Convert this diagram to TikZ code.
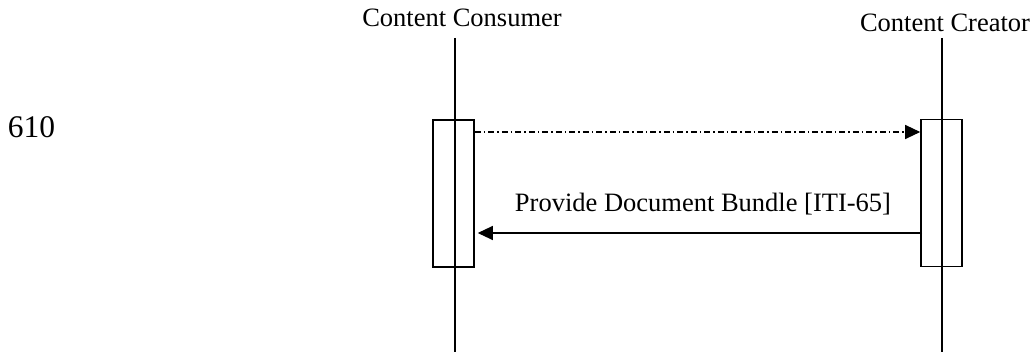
\documentclass[tikz,border=0pt]{standalone}
\usepackage{fontspec}
\setmainfont{Liberation Serif}
\usetikzlibrary{arrows.meta}

\tikzset{
    actbox/.style={draw, line width=1.6pt, fill=white, minimum width=41pt, minimum height=147pt, inner sep=0pt},
    msg/.style={line width=1.2pt, -{Triangle[length=15pt,width=14pt]}},
    dashdot/.style={dash pattern=on 6pt off 3pt on 1.5pt off 3pt}
}

\begin{document}
\begin{tikzpicture}[x=1pt, y=-1pt, font=\fontsize{26.5}{30}\selectfont]
            \useasboundingbox (0,0) rectangle (1034,352);
            % lifelines
            \coordinate (cons top) at (455,38);
            \coordinate (cons bot) at (455,352);
            \coordinate (crea top) at (942,38);
            \coordinate (crea bot) at (942,352);
            \draw[line width=1.6pt] (cons top) -- (cons bot);
            \draw[line width=1.6pt] (crea top) -- (crea bot);
            \node[actbox] (cons box) at (453.5,193.5) {};
            \node[actbox] (crea box) at (941.5,193) {};
            \draw[line width=1.6pt] (cons box.north) ++(1.5,0) -- ++(0,147);
            \draw[line width=1.6pt] (crea box.north) ++(0.5,0) -- ++(0,147);
            % actors
            \node[anchor=base] (cons) at (462,27) {Content Consumer};
            \node[anchor=base] (crea) at (945,32) {Content Creator};
            \node[anchor=base, font=\fontsize{31.5}{36}\selectfont] (num) at (31.5,138) {610};
            % messages
            \coordinate (req start) at (cons box.east |- 0,132);
            \coordinate (req end) at (crea box.west |- 0,132);
            \draw[msg, dashdot] (req start) -- (req end);
            \coordinate (resp start) at (crea box.west |- 0,233);
            \coordinate (resp end) at (cons box.east |- 0,233);
            \draw[msg] ([xshift=2pt]resp start) -- ([xshift=3pt]resp end)
                node[midway, anchor=base, yshift=21pt, xshift=3pt] {Provide Document Bundle [ITI-65]};
        \end{tikzpicture}
\end{document}
